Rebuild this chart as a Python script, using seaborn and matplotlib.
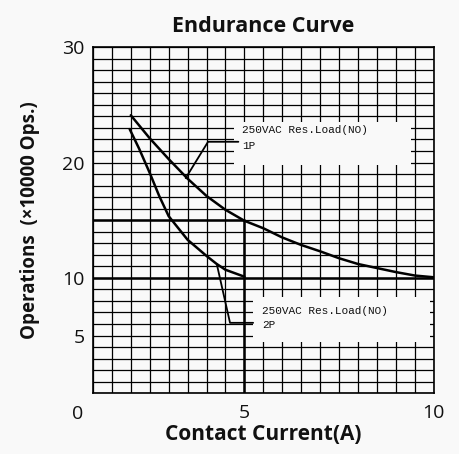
import numpy as np
import pandas as pd
import seaborn as sns
import matplotlib.pyplot as plt
from matplotlib.patches import Rectangle

# values
current_1p = [2.0, 2.5, 3.0, 3.5, 4.0, 4.5, 5.0, 5.5, 6.0, 6.5, 7.0, 7.5,
              8.0, 8.5, 9.0, 9.5, 10.0]
ops_1p = [24.1, 22.1, 20.3, 18.6, 17.1, 15.9, 14.95, 14.3, 13.5, 12.85, 12.3,
          11.7, 11.2, 10.85, 10.5, 10.2, 10.05]
current_2p = [1.97, 2.22, 2.5, 2.75, 3.0, 3.5, 4.0, 4.27, 4.5, 5.0]
ops_2p = [22.9, 21.2, 19.1, 17.1, 15.35, 13.3, 11.9, 11.2, 10.7, 10.1]
xticks = [5, 10]
yticks = [5, 10, 20, 30]
label_text = "250VAC Res.Load(NO)"

df = pd.concat([
    pd.DataFrame({"current": current_1p, "ops": ops_1p, "load": "1P"}),
    pd.DataFrame({"current": current_2p, "ops": ops_2p, "load": "2P"}),
])

sns.set_style("white")
plt.rcParams["font.family"] = ["Open Sans", "DejaVu Sans"]
for k in ["text.color", "axes.labelcolor", "xtick.color", "ytick.color"]:
    plt.rcParams[k] = "#111111"

bg = "#f9f9f9"
fig = plt.figure(figsize=(4.6, 4.54), dpi=100, facecolor=bg)
ax = fig.add_axes([0.202, 0.134, 0.741, 0.762])
ax.set_facecolor(bg)

ax.set_xlim(1, 10)
ax.set_ylim(0, 30)
ax.set_xticks(np.arange(1, 10.01, 0.5), minor=True)
ax.set_yticks(np.arange(0, 30.01, 1), minor=True)
ax.set_xticks(xticks)
ax.set_yticks(yticks)
ax.grid(which="both", color="black", linewidth=0.9)
ax.set_axisbelow(True)
ax.tick_params(which="both", length=0, labelsize=14)
ax.tick_params(axis="x", pad=8)
ax.tick_params(axis="y", pad=6)
for s in ax.spines.values():
    s.set_color("black")
    s.set_linewidth(1.2)

# reference lines
ax.plot([1, 5], [15, 15], color="black", lw=1.8, zorder=4)
ax.plot([1, 10], [10, 10], color="black", lw=1.8, zorder=4)
ax.plot([5, 5], [0, 15], color="black", lw=1.8, zorder=4)

sns.lineplot(data=df, x="current", y="ops", units="load", estimator=None,
             color="black", lw=1.8, ax=ax, zorder=5)

# label boxes hiding the grid
ax.add_patch(Rectangle((4.72, 19.8), 4.68, 3.7, facecolor=bg,
                       edgecolor="none", zorder=2))
ax.add_patch(Rectangle((5.23, 4.4), 4.67, 3.9, facecolor=bg,
                       edgecolor="none", zorder=2))

# leaders
ax.plot([3.45, 4.04, 4.84], [18.65, 21.8, 21.8], color="black", lw=1.3, zorder=5)
ax.plot([4.27, 4.62, 5.23], [11.2, 6.1, 6.1], color="black", lw=1.3, zorder=5)

mono = ["Liberation Mono", "DejaVu Sans Mono"]
ax.text(4.94, 22.8, label_text, family=mono, fontsize=8, va="center", zorder=6)
ax.text(4.94, 21.4, "1P", family=mono, fontsize=8, va="center", zorder=6)
ax.text(5.46, 7.15, label_text, family=mono, fontsize=8, va="center", zorder=6)
ax.text(5.46, 5.9, "2P", family=mono, fontsize=8, va="center", zorder=6)

ax.text(0.6, -0.033, "0", transform=ax.get_xaxis_transform(), fontsize=14,
        ha="center", va="top")

ax.set_title("Endurance Curve", fontsize=15.5, fontweight="bold", pad=11)
ax.set_xlabel("Contact Current(A)", fontsize=15, fontweight="bold", labelpad=1)
ax.set_ylabel("Operations  (×10000 Ops.)", fontsize=13.5, fontweight="bold",
              labelpad=16)

fig.savefig("out.png", dpi=100, facecolor=fig.get_facecolor())
